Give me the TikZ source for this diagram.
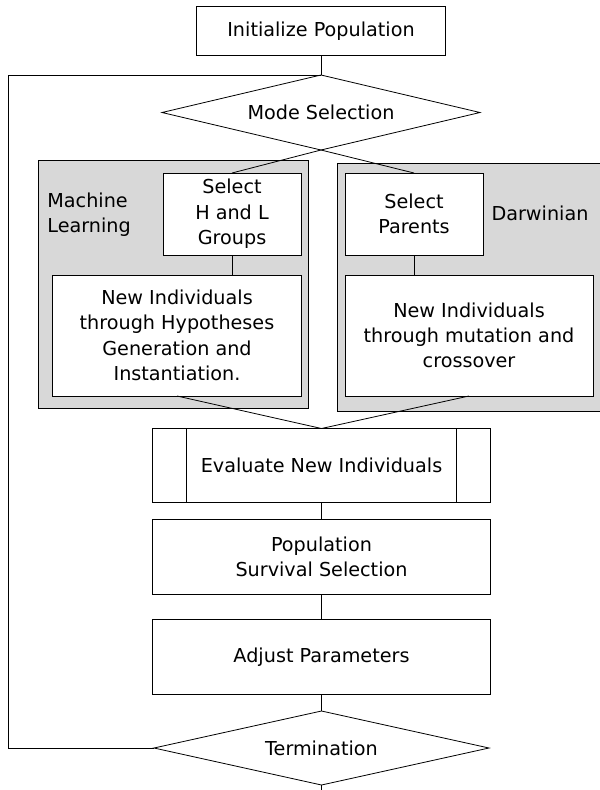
\documentclass[tikz,border=0pt]{standalone}
\usepackage{fontspec}
\setmainfont{DejaVu Sans}
\usetikzlibrary{shapes,calc}

\definecolor{groupgray}{HTML}{D8D8D8}

\begin{document}
\begin{tikzpicture}[x=0.75pt,y=-0.75pt,line width=0.6pt,
    font=\fontsize{14.4}{19}\selectfont]
  \tikzset{dims/.style 2 args={minimum width=#1*0.75pt,minimum height=#2*0.75pt},
           box/.style={draw,fill=white,rectangle,inner sep=0pt,outer sep=0pt,align=center},
           decision/.style={draw,fill=white,diamond,inner sep=0pt,outer sep=0pt,aspect=4.3},
           group/.style={draw,fill=groupgray,rectangle,inner sep=0pt,outer sep=0pt}}
  \useasboundingbox (0,0) rectangle (600,790);
  % grey mode panels
  \node[group,dims={270}{248}] (mlgroup) at (173, 284) {};
  \node[group,dims={266}{248}] (dwgroup) at (470, 287) {};
  \node[align=left,anchor=west,inner sep=0pt] (mllabel) at (47, 215) {Machine\\Learning};
  \node (dwlabel) at (540, 213) {Darwinian};
  % flow boxes
  \node[box,dims={249}{49}] (init) at (321, 31) {Initialize Population};
  \node[decision,dims={318}{75}] (mode) at (321, 112.5) {Mode Selection};
  \node[box,dims={138}{82}] (selhl) at (232, 214) {Select\\H and L\\Groups};
  \node[box,dims={138}{82}] (selpar) at (414, 214) {Select\\Parents};
  \node[box,dims={249}{121}] (newml) at (177, 335.5)
    {New Individuals\\through Hypotheses\\Generation and\\Instantiation.};
  \node[box,dims={248}{121}] (newdw) at (469, 335.5)
    {New Individuals\\through mutation and\\crossover};
  \node[box,dims={338}{74}] (eval) at (321.5, 465.5) {Evaluate New Individuals};
  \draw ($(eval.north west)!0.1!(eval.north east)$) -- ($(eval.south west)!0.1!(eval.south east)$);
  \draw ($(eval.north east)!0.1!(eval.north west)$) -- ($(eval.south east)!0.1!(eval.south west)$);
  \node[box,dims={338}{75}] (surv) at (321.5, 557) {Population\\Survival Selection};
  \node[box,dims={338}{75}] (adjust) at (321.5, 657) {Adjust Parameters};
  \node[decision,dims={335}{74}] (term) at (321.5, 748) {Termination};
  \coordinate (back) at (8, 75);
  \coordinate (exit) at (321.5, 790);
  % connectors
  \path (init.south)   edge (mode.north)
        (mode.south)   edge (selhl.north)
        (mode.south)   edge (selpar.north)
        (selhl.south)  edge (selhl.south |- newml.north)
        (selpar.south) edge (selpar.south |- newdw.north)
        (newml.south)  edge (eval.north)
        (newdw.south)  edge (eval.north)
        (eval.south)   edge (surv.north)
        (surv.south)   edge (adjust.north)
        (adjust.south) edge (term.north)
        (term.south)   edge (exit);
  \draw (term.west) -| (back) -- (mode.north);
\end{tikzpicture}
\end{document}
